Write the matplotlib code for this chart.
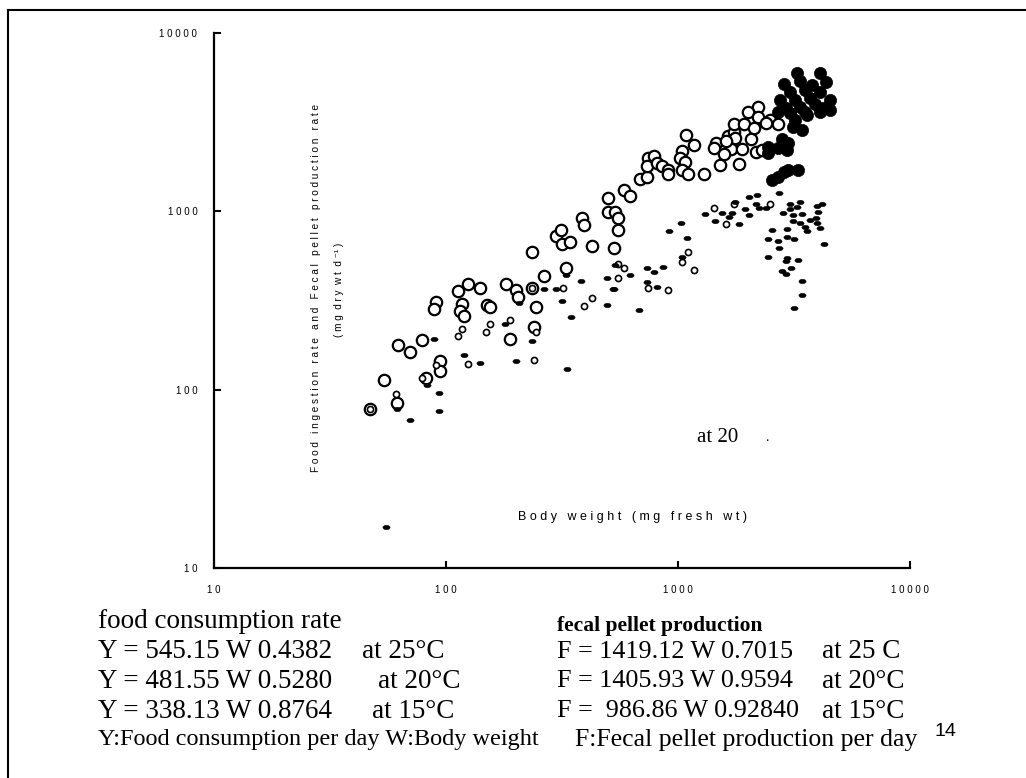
import numpy as np
import matplotlib.pyplot as plt
from matplotlib.path import Path
from matplotlib.transforms import Affine2D
from matplotlib.markers import MarkerStyle

# food consumption, open circles (mg fresh wt, mg dry wt/d)
food_w = [47, 54, 61.5, 62, 70, 79, 91, 89, 82, 94, 94, 113, 124, 140, 117, 115, 120,
          150, 155, 182, 200, 204, 189, 235, 244, 239, 235, 264, 329, 298, 316, 342,
          313, 426, 386, 394, 499, 499, 535, 551, 551, 530, 585, 621, 686, 735, 743,
          789, 735, 811, 853, 906, 906, 1082, 1172, 1040, 1021, 1072, 1040, 1104, 1294,
          1517, 1832, 1459, 1429, 1692, 1578, 1888, 2168, 2303, 1644, 1742, 1762, 1611,
          2065, 1742, 1923, 2128, 2213, 2004, 2213, 2494, 2395, 2698]
food_y = [78, 113, 84, 178, 162, 189, 309, 282, 116, 145, 127, 356, 390, 371, 301, 275, 258,
          297, 290, 390, 361, 330, 192, 371, 290, 224, 589, 432, 480, 724, 653, 670,
          783, 637, 914, 836, 1183, 986, 986, 914, 783, 621, 1312, 1213, 1510, 1549, 1982,
          2032, 1786, 1858, 1786, 1698, 1611, 2667, 2344, 2168, 1982, 1884, 1698, 1611, 1611,
          1811, 1832, 2404, 2254, 2223, 2084, 2223, 2143, 2198, 2630, 2773, 2564, 2466,
          2529, 3069, 3069, 2917, 3828, 3589, 3365, 3273, 3112, 3069]

# food consumption at 25 C, filled circles
food25_w = [2443, 2443, 2698, 2951, 2805, 2979, 2543, 2698, 2864, 2979, 3289, 3133, 3420,
            3597, 3041, 4093, 4217, 3258, 4093, 2864, 3357, 3784, 4345, 3041, 3525, 4093,
            2754, 3192, 3707, 4519, 2924, 3357, 3898, 2698, 3525, 3192, 4519]
food25_y = [2285, 2113, 2254, 2198, 2529, 2404, 1493, 1549, 1652, 1698, 1698, 2958, 2844,
            3451, 3540, 3589, 3776, 6000, 6000, 5200, 5400, 5100, 5300, 4640, 4760, 4640,
            4190, 4190, 4300, 4190, 3776, 3870, 3980, 3589, 3589, 3240, 3700]

# fecal pellet production, small filled dots
fec_w = [61.5, 70, 89, 83, 93, 93, 120, 140, 55, 180, 206, 200, 264, 298, 235, 329, 316,
         346, 332, 382, 525, 494, 535, 494, 530, 679, 621, 735, 735, 811, 861, 789, 914,
         1031, 1094, 1040, 1306, 1443, 1832, 1548, 1710, 1660, 1762, 1945, 2023, 2023,
         2192, 2168, 2234, 2395, 2723, 3041, 3357, 3041, 3258, 2836, 3133, 3420, 3974,
         4178, 4011, 3133, 3357, 3525, 3707, 3936, 3974, 4093, 3597, 2543, 2951, 2443,
         2698, 2951, 3162, 2723, 4258, 2443, 2951, 2924, 3289, 2805, 3070, 2924, 3420,
         3420, 3162]
fec_y = [78, 68, 192, 106, 95.5, 76, 156, 141, 17, 233, 305, 145, 366, 366, 187, 438, 313,
         255, 130, 406, 366, 422, 498, 297, 366, 279, 438, 480, 400, 375, 485, 455, 773,
         857, 706, 552, 962, 879, 845, 975, 975, 925, 1122, 1026, 951, 1197,
         1230, 1094, 1040, 1040, 1262, 1094, 1122, 1026, 1052, 975, 951, 962, 1067,
         1094, 986, 879, 857, 813, 891, 914, 857, 804, 773, 783, 793, 697,
         679, 715, 697, 621, 653, 552, 546, 525, 531, 461, 480, 444, 406,
         338, 286]

# fecal pellet production, small open circles
fec2_w = [61, 79, 91, 117, 113, 124, 155, 149, 189, 235, 47, 244, 239, 319, 394, 426, 551,
          551, 585, 743, 906, 1104, 1040, 1172, 1429, 1611, 1742, 2494]
fec2_y = [94, 117, 137, 218, 200, 139, 233, 210, 245, 371, 78, 210, 146, 371, 294, 326, 422,
          505, 480, 371, 361, 589, 518, 467, 1040, 845, 1094, 1094]

ticks = [10, 100, 1000, 10000]

left_eq = ["Y = 545.15 W 0.4382", "Y = 481.55 W 0.5280", "Y = 338.13 W 0.8764"]
left_t = ["at 25\u00b0C", "at 20\u00b0C", "at 15\u00b0C"]
right_eq = ["F = 1419.12 W 0.7015", "F = 1405.93 W 0.9594", "F =  986.86 W 0.92840"]
right_t = ["at 25 C", "at 20\u00b0C", "at 15\u00b0C"]

W, H = 1026, 778
sans = ['Liberation Sans Narrow', 'Liberation Sans', 'DejaVu Sans']
serif = ['Liberation Serif', 'DejaVu Serif', 'DejaVu Sans']


def spaced(s):
    return ' '.join(s)


def fx(px):
    return px / W


def fy(py):
    return 1 - py / H


fig = plt.figure(figsize=(10.26, 7.78), dpi=100)
ax = fig.add_axes([fx(214), fy(568), fx(910) - fx(214), fy(33) - fy(568)])
ax.set_xscale('log')
ax.set_yscale('log')
ax.set_xlim(10, 10000)
ax.set_ylim(10, 10000)

ell = MarkerStyle(Path.unit_circle().transformed(Affine2D().scale(1.6, 1.0)))

ax.plot(food_w, food_y, 'o', ms=8.2, mfc='white', mec='black', mew=1.6, ls='none')
ax.plot(food25_w, food25_y, 'o', ms=8.8, mfc='black', mec='black', mew=0.5, ls='none')
ax.plot(fec2_w, fec2_y, 'o', ms=4.4, mfc='white', mec='black', mew=1.2, ls='none')
ax.plot(fec_w, fec_y, marker=ell, ms=5.2, mfc='black', mec='black', mew=0.3, ls='none')

for s in ['top', 'right']:
    ax.spines[s].set_visible(False)
for s in ['left', 'bottom']:
    ax.spines[s].set_linewidth(1.6)
ax.minorticks_off()
ax.set_xticks(ticks)
ax.set_yticks(ticks)
ax.set_xticklabels([spaced(str(t)) for t in ticks], family=sans, fontsize=7)
ax.set_yticklabels([spaced(str(t)) for t in ticks], family=sans, fontsize=7)
ax.tick_params(direction='in', length=5, width=1.5, pad=12)

fig.text(fx(316), fy(288), spaced("Food ingestion rate and Fecal pellet production rate"),
         rotation=90, ha='center', va='center', family=sans, fontsize=7.2)
fig.text(fx(339), fy(290), "( m g  d r y  w t  d \u207b\u00b9 )",
         rotation=90, ha='center', va='center', family=sans, fontsize=7.2)
fig.text(fx(632), fy(517), spaced("Body weight (mg fresh wt)"),
         ha='center', va='center', family=sans, fontsize=9)
fig.text(fx(697), fy(437), "at 20", ha='left', va='center', family=serif, fontsize=15)
fig.text(fx(765), fy(437), ".", ha='left', va='center', family=serif, fontsize=10)

fig.text(fx(98), fy(622), "food consumption rate", ha='left', va='center',
         family=serif, fontsize=19.5)
fig.text(fx(557), fy(626), "fecal pellet production", ha='left', va='center',
         family=serif, fontsize=15.5, weight='bold')
rows_y = [652, 681, 711]
left_tx = [362, 378, 372]
for i in range(3):
    fig.text(fx(98), fy(rows_y[i]), left_eq[i], ha='left', va='center', family=serif, fontsize=19.5)
    fig.text(fx(left_tx[i]), fy(rows_y[i]), left_t[i], ha='left', va='center', family=serif, fontsize=19.5)
    fig.text(fx(557), fy(rows_y[i]), right_eq[i], ha='left', va='center', family=serif, fontsize=18.8)
    fig.text(fx(822), fy(rows_y[i]), right_t[i], ha='left', va='center', family=serif, fontsize=19.5)
fig.text(fx(98), fy(740), "Y:Food consumption per day W:Body weight", ha='left', va='center',
         family=serif, fontsize=17.5)
fig.text(fx(575), fy(740), "F:Fecal pellet production per day", ha='left', va='center',
         family=serif, fontsize=18.5)
fig.text(fx(935), fy(731), "14", ha='left', va='center', family=['Liberation Sans', 'DejaVu Sans'],
         fontsize=14)

# slide frame
fig.add_artist(plt.Line2D([fx(8), fx(8)], [fy(10), fy(778)], color='black', lw=1.5))
fig.add_artist(plt.Line2D([fx(8), fx(1026)], [fy(10), fy(10)], color='black', lw=1.5))

fig.savefig('out.png', dpi=100)
